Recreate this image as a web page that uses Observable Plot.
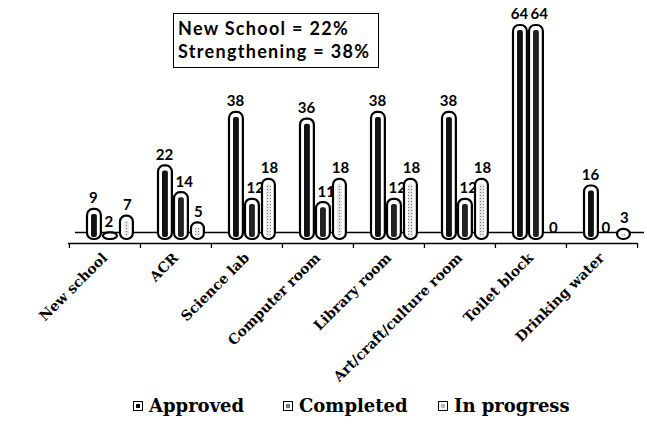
<!DOCTYPE html>
<html><head><meta charset="utf-8">
<script src="https://cdn.jsdelivr.net/npm/d3@7"></script>
<script src="https://cdn.jsdelivr.net/npm/@observablehq/plot@0.6"></script>
<style>
body{margin:0;background:#fff;width:647px;height:425px;overflow:hidden;position:relative}
#box{position:absolute;left:173px;top:13px;width:206px;height:55px;border:1.5px solid #000;box-sizing:border-box;font:bold 18px Lato,sans-serif;letter-spacing:1.3px;line-height:23px;padding:3px 0 0 4px;color:#000;background:#fff}
#legend{position:absolute;left:0;top:385px;width:647px;height:40px;font:bold 18px "DejaVu Serif",serif;color:#000}
#legend .item{display:flex;align-items:center;position:absolute;top:10px}
#legend .sw{width:8px;height:8px;border:1.5px solid #000;margin-right:6px;position:relative;background:#fff}
#legend .sw i{position:absolute;left:2px;top:2px;width:4px;height:4px;}
</style></head><body>
<div id="chart"></div>
<div id="legend"></div>
<div id="box"></div>
<script>
const categories = ["New school","ACR","Science lab","Computer room","Library room","Art/craft/culture room","Toilet block","Drinking water"];
const seriesNames = ["Approved","Completed","In progress"];
const approved   = [9, 22, 38, 36, 38, 38, 64, 16];
const completed  = [2, 14, 12, 11, 12, 12, 64, 0];
const inProgress = [7, 5, 18, 18, 18, 18, 0, 3];
const annotationLines = ["New School = 22%", "Strengthening = 38%"];

const seriesValues = [approved, completed, inProgress];
const rows = [];
seriesNames.forEach((s, si) => categories.forEach((c, ci) => rows.push({category: c, series: s, value: seriesValues[si][ci]})));

const W = 647, H = 385, mL = 68, mR = 10, mT = 25, mB = 146;
const bw = (W - mL - mR) / categories.length;
const layout = {
  "Approved":    {l: 18, r: bw - 32, dx: 24 - bw/2, anchor: "middle", core: "#111"},
  "Completed":   {l: 34, r: bw - 48, dx: 35 - bw/2, anchor: "start", core: "#222"},
  "In progress": {l: 51, r: bw - 64, dx: 58 - bw/2, anchor: "middle", core: "url(#dots)"}
};

const marks = [
  Plot.ruleY([0], {dy: -7, dx: 7, stroke: "#000", strokeWidth: 1.3}),
  Plot.ruleY([0], {dy: 4, stroke: "#000", strokeWidth: 1.5}),
  Plot.ruleX(categories, {x: d => d, dx: -bw/2, y1: 0, y2: 0, insetTop: 4, insetBottom: -9, stroke: "#000", strokeWidth: 1.3}),
  Plot.ruleX(categories.slice(-1), {x: d => d, dx: bw/2, y1: 0, y2: 0, insetTop: 4, insetBottom: -9, stroke: "#000", strokeWidth: 1.3})
];
for (const s of seriesNames) {
  const L = layout[s];
  const data = rows.filter(r => r.series === s);
  marks.push(Plot.barY(data, {x: "category", y: "value", fill: "#fff", stroke: "#000", strokeWidth: 2.2, rx: 6, insetLeft: L.l, insetRight: L.r}));
  marks.push(Plot.barY(data.filter(d => d.value > 1), {x: "category", y: "value", fill: L.core, insetLeft: L.l + 4, insetRight: L.r + 4, insetTop: 5, insetBottom: 2, rx: 2}));
  marks.push(Plot.text(data, {x: "category", y: "value", text: d => String(d.value), dx: L.dx, dy: -11, textAnchor: L.anchor, fontFamily: "Lato, sans-serif", fontWeight: "bold", fontSize: 15, fill: "#000"}));
}
marks.push(Plot.axisX({tickRotate: -45, tickSize: 0, tickPadding: 16, fontFamily: "DejaVu Serif, serif", fontWeight: "bold", fontSize: 14, label: null, fill: "#000"}));

const chart = Plot.plot({
  width: W, height: H,
  marginLeft: mL, marginRight: mR, marginTop: mT, marginBottom: mB,
  x: {domain: categories, padding: 0, axis: null},
  y: {domain: [0, 64], axis: null},
  style: {background: "#fff", color: "#000", overflow: "visible"},
  marks
});
const defs = document.createElementNS("http://www.w3.org/2000/svg", "defs");
defs.innerHTML = '<pattern id="dots" width="3" height="3" patternUnits="userSpaceOnUse"><rect width="3" height="3" fill="#e6e6e6"/><rect width="1" height="1" fill="#777"/></pattern>';
chart.insertBefore(defs, chart.firstChild);
document.getElementById("chart").appendChild(chart);

document.getElementById("box").innerHTML = annotationLines.map(t => `<div>${t}</div>`).join("");

const legendPos = [133, 283, 438];
const leg = document.getElementById("legend");
seriesNames.forEach((s, i) => {
  const item = document.createElement("div");
  item.className = "item";
  item.style.left = legendPos[i] + "px";
  item.innerHTML = `<span class="sw"><i style="background:${i === 0 ? '#000' : i === 1 ? '#777' : '#bbb'}"></i></span><span>${s}</span>`;
  leg.appendChild(item);
});
</script>
</body></html>
